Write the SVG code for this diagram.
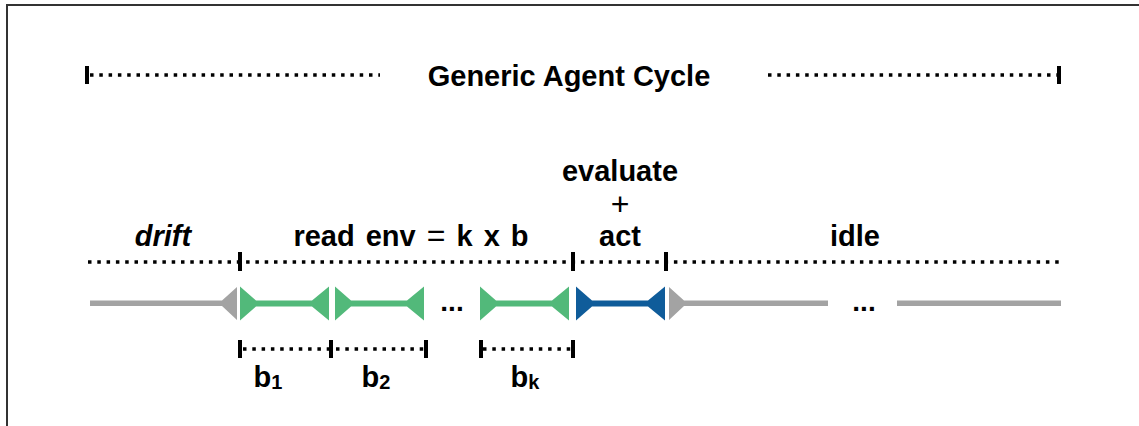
<svg xmlns="http://www.w3.org/2000/svg" width="1139" height="426" viewBox="0 0 1139 426">
<style>
.lbl{font-family:"Liberation Sans",Arial,sans-serif;font-size:29px;font-weight:bold;fill:#000;text-anchor:middle}
.thin{font-weight:normal}
.plus{font-size:32px}
.eq{font-size:32px}
.sub{font-size:20px}
.dot{stroke:#000;stroke-width:3.5;stroke-dasharray:3.5 5.8;fill:none}
.tick{stroke:#000;stroke-width:4;fill:none}
.gray{fill:#a3a3a3}
.green{fill:#52b97a}
.blue{fill:#0f5c9a}
.ell{font-family:"Liberation Sans",Arial,sans-serif;font-size:28px;font-weight:bold;fill:#000;text-anchor:middle}
</style>
<defs>
<path id="bone" d="M0,-17 L16,-3 L72,-3 L89,-17 L89,17 L72,3 L16,3 L0,17 Z"/>
</defs>
<rect width="1139" height="426" fill="#fff"/>
<path d="M7,426 V5 H1139" fill="none" stroke="#333" stroke-width="2"/>

<g id="connectors">
<path class="dot" d="M90,75 H380 M768,75 H1058"/>
<path class="tick" d="M87,66 V84 M1059,66 V84"/>
<path class="dot" d="M88,262 H1060"/>
<path class="tick" d="M240,252 V271 M573,252 V271 M666,252 V271"/>
<path class="dot" d="M243,349 H426 M483,349 H573"/>
<path class="tick" d="M240,340 V358 M331,340 V358 M426,340 V358 M481,340 V358 M573,340 V358"/>
</g>

<g id="title"><text class="lbl" x="569" y="86">Generic Agent Cycle</text></g>
<g id="drift"><text class="lbl" x="163" y="246" font-style="italic">drift</text></g>
<g id="read"><text class="lbl" x="411" y="246" word-spacing="3">read env <tspan class="thin eq">=</tspan> k x b</text></g>
<g id="evaluate">
<text class="lbl" x="620" y="181">evaluate</text>
<text class="lbl thin plus" x="620" y="215">+</text>
<text class="lbl" x="620" y="246">act</text>
</g>
<g id="idle"><text class="lbl" x="855" y="246">idle</text></g>

<g id="timeline">
<path class="gray" d="M90,300.5 L222,300.5 L237,287 L237,320 L222,306 L90,306 Z"/>
<use href="#bone" class="green" transform="translate(240,303.5)"/>
<use href="#bone" class="green" transform="translate(335,303.5)"/>
<text class="ell" x="452" y="311">...</text>
<use href="#bone" class="green" transform="translate(480,303.5)"/>
<use href="#bone" class="blue" transform="translate(576,303.5)"/>
<path class="gray" d="M669,287 L684,300.5 L828,300.5 L828,306 L684,306 L669,320 Z"/>
<text class="ell" x="864" y="311">...</text>
<path class="gray" d="M897,300.5 H1061 V306 H897 Z"/>
</g>

<g id="b1"><text class="lbl" x="268" y="387">b<tspan class="sub" dy="2">1</tspan></text></g>
<g id="b2"><text class="lbl" x="376" y="387">b<tspan class="sub" dy="2">2</tspan></text></g>
<g id="bk"><text class="lbl" x="525" y="387">b<tspan class="sub" dy="2">k</tspan></text></g>
</svg>
